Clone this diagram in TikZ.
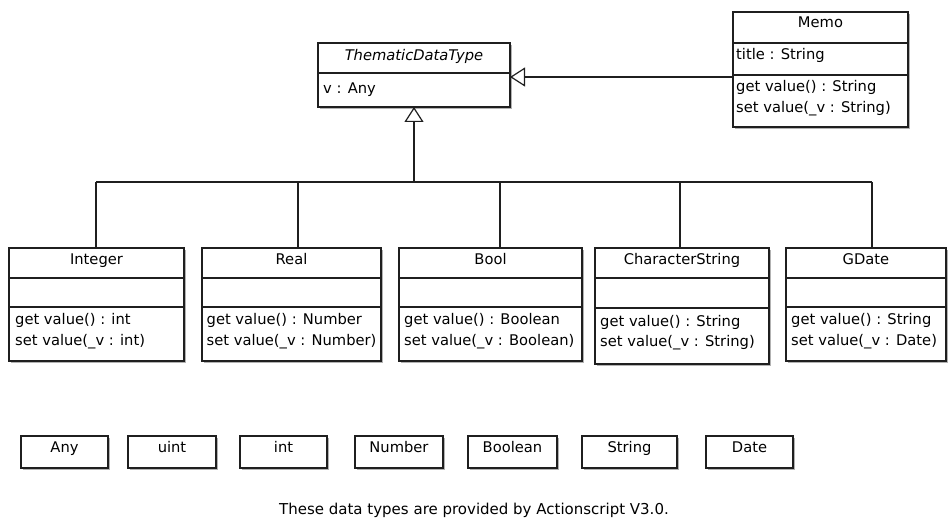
\documentclass[tikz,border=0pt]{standalone}
\usepackage{fontspec}
\setmainfont{DejaVu Sans}
\usetikzlibrary{shadows,arrows.meta}

\tikzset{
  x=1pt, y=-1pt,
  ink/.style={draw=black!88, line width=1.2pt},
  uml/.style={ink, fill=white, rectangle, inner sep=0pt, outer sep=0pt,
    anchor=north west,
    drop shadow={shadow xshift=1.6pt, shadow yshift=-1.6pt, opacity=0.3, fill=black}},
  lbl/.style={anchor=base west, inner sep=0pt, font=\fontsize{14.7}{18}\selectfont},
  clbl/.style={anchor=base, inner sep=0pt, font=\fontsize{14.7}{18}\selectfont},
  gen/.style={ink, -{Triangle[open, length=15pt, width=19pt, line width=1.2pt]}},
}

% class box: name, left, top, right, bottom
\newcommand\umlbox[5]{%
  \node[uml, minimum width={(#4-#2)*1pt}, minimum height={(#5-#3)*1pt}] (#1) at (#2,#3) {};}
% compartment separator: box name, y
\newcommand\compsep[2]{\draw[ink] (#1.west |- 0,#2) -- (#1.east |- 0,#2);}

\begin{document}
\begin{tikzpicture}
\useasboundingbox (0,0) rectangle (948,518);

% abstract parent
\umlbox{tdt}{318}{43}{510}{107}
\compsep{tdt}{73}
\node[clbl, font=\fontsize{14.7}{18}\selectfont\itshape] (tdtname) at (414,61) {ThematicDataType};
\node[lbl] (tdta) at (323,94) {v : Any};

% Memo
\umlbox{memo}{733}{12}{908}{127}
\compsep{memo}{43}
\compsep{memo}{75}
\node[clbl] (memoname) at (820.5,28) {Memo};
\node[lbl] (memoa) at (736,60) {title : String};
\node[lbl] (memom1) at (736,92) {get value() : String};
\node[lbl] (memom2) at (736,113) {set value(\_v : String)};

\draw[gen] (memo.west |- 0,77) -- (tdt.east |- 0,77);

% concrete subclasses
\umlbox{int}{9}{248}{184}{361}
\compsep{int}{278}\compsep{int}{307}
\node[clbl] (intname) at (int.north |- 0,265) {Integer};
\node[lbl] (intm1) at (15,325) {get value() : int};
\node[lbl] (intm2) at (15,346) {set value(\_v : int)};

\umlbox{real}{202}{248}{381}{361}
\compsep{real}{278}\compsep{real}{307}
\node[clbl] (realname) at (real.north |- 0,265) {Real};
\node[lbl] (realm1) at (206.5,325) {get value() : Number};
\node[lbl] (realm2) at (206.5,346) {set value(\_v : Number)};

\umlbox{bool}{399}{248}{582}{361}
\compsep{bool}{278}\compsep{bool}{307}
\node[clbl] (boolname) at (bool.north |- 0,265) {Bool};
\node[lbl] (boolm1) at (404,325) {get value() : Boolean};
\node[lbl] (boolm2) at (404,346) {set value(\_v : Boolean)};

\umlbox{cstr}{595}{248}{769}{364}
\compsep{cstr}{278}\compsep{cstr}{308}
\node[clbl] (cstrname) at (cstr.north |- 0,265) {CharacterString};
\node[lbl] (cstrm1) at (600,327) {get value() : String};
\node[lbl] (cstrm2) at (600,347) {set value(\_v : String)};

\umlbox{gdate}{786}{248}{946}{361}
\compsep{gdate}{278}\compsep{gdate}{307}
\node[clbl] (gdatename) at (gdate.north |- 0,265) {GDate};
\node[lbl] (gdatem1) at (791,325) {get value() : String};
\node[lbl] (gdatem2) at (791,346) {set value(\_v : Date)};

% generalization tree
\coordinate (hub) at (414,182);
\coordinate (jint) at (96,182);
\coordinate (jreal) at (298,182);
\coordinate (jbool) at (500,182);
\coordinate (jcstr) at (680,182);
\coordinate (jgdate) at (872,182);
\draw[ink] (jint) -- (jgdate);
\draw[gen] (hub) -- (tdt.south -| hub);
\foreach \j/\b in {jint/int, jreal/real, jbool/bool, jcstr/cstr, jgdate/gdate}
  \draw[ink] (\j) -- (\b.north -| \j);

% primitive types
\foreach \n/\l/\r/\t in {pany/21/108/Any, puint/128/216/uint, pint/240/327/int,
    pnum/355/443/Number, pbool/468/557/Boolean, pstr/582/677/String, pdate/706/793/Date} {
  \umlbox{\n}{\l}{436}{\r}{468}
  \node[clbl] (\n t) at (\n.north |- 0,453) {\t};
}

\node[clbl, font=\fontsize{15}{18}\selectfont] (caption) at (474,514) {These data types are provided by Actionscript V3.0.};
\end{tikzpicture}
\end{document}
